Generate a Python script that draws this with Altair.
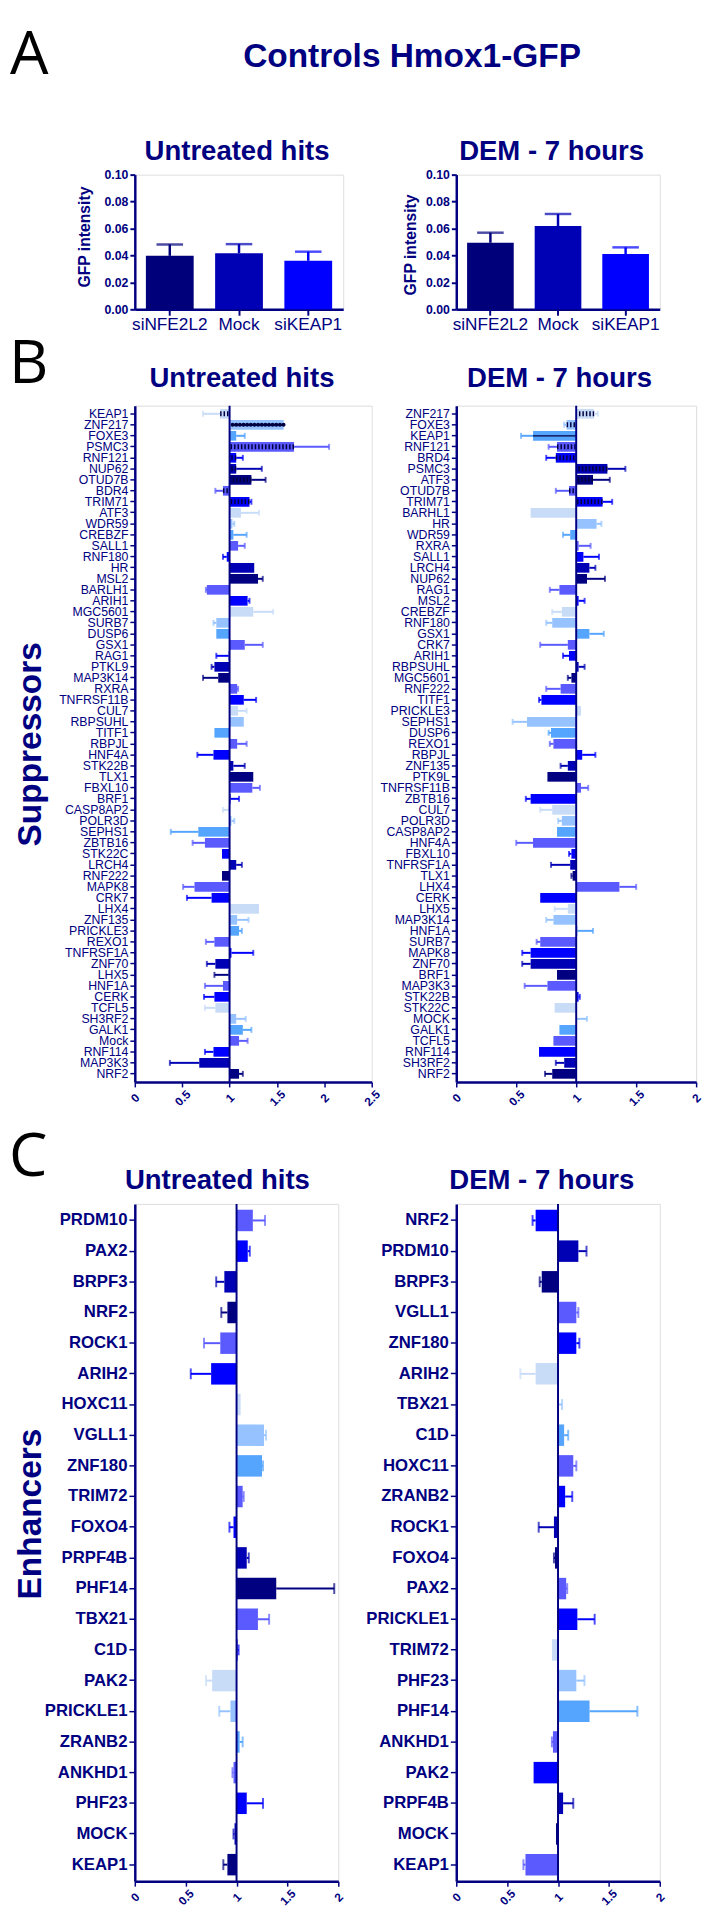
import altair as alt
import pandas as pd

NAVY = "#000080"
FONT = "Liberation Sans"
LETTER_FONT = "Open Sans"

# ---------------- Panel A : controls ----------------
a_categories = ["siNFE2L2", "Mock", "siKEAP1"]
a_untreated_mean = [0.0397, 0.0416, 0.0360]
a_untreated_upper = [0.0482, 0.0484, 0.0428]
a_dem_mean = [0.0494, 0.0618, 0.0411]
a_dem_upper = [0.0569, 0.0708, 0.0460]
a_ticks = [0.0, 0.02, 0.04, 0.06, 0.08, 0.10]

# ---------------- Panel B : suppressors ----------------
b_untreated_genes = ["KEAP1", "ZNF217", "FOXE3", "PSMC3", "RNF121", "NUP62", "OTUD7B", "BDR4", "TRIM71",
                     "ATF3", "WDR59", "CREBZF", "SALL1", "RNF180", "HR", "MSL2", "BARLH1", "ARIH1",
                     "MGC5601", "SURB7", "DUSP6", "GSX1", "RAG1", "PTKL9", "MAP3K14", "RXRA", "TNFRSF11B",
                     "CUL7", "RBPSUHL", "TITF1", "RBPJL", "HNF4A", "STK22B", "TLX1", "FBXL10", "BRF1",
                     "CASP8AP2", "POLR3D", "SEPHS1", "ZBTB16", "STK22C", "LRCH4", "RNF222", "MAPK8", "CRK7",
                     "LHX4", "ZNF135", "PRICKLE3", "REXO1", "TNFRSF1A", "ZNF70", "LHX5", "HNF1A", "CERK",
                     "TCFL5", "SH3RF2", "GALK1", "Mock", "RNF114", "MAP3K3", "NRF2"]
b_untreated_ratio = [0.90, 1.57, 1.07, 1.68, 1.07, 1.07, 1.23, 0.93, 1.21,
                     1.12, 1.03, 1.04, 1.09, 0.97, 1.26, 1.30, 0.76, 1.19,
                     1.25, 0.86, 0.86, 1.16, 0.99, 0.84, 0.88, 1.08, 1.15,
                     1.09, 1.15, 0.84, 1.08, 0.83, 1.04, 1.25, 1.24, 1.01,
                     0.99, 1.02, 0.67, 0.74, 0.92, 1.07, 0.92, 0.63, 0.81,
                     1.31, 1.08, 1.10, 0.84, 1.02, 0.85, 0.99, 0.93, 0.84,
                     0.85, 1.07, 1.14, 1.10, 0.83, 0.68, 1.10]
b_untreated_err_end = [0.72, 1.57, 1.16, 2.05, 1.14, 1.34, 1.38, 0.85, 1.23,
                       1.31, 1.05, 1.18, 1.16, 0.93, 1.26, 1.35, 0.75, 1.21,
                       1.46, 0.83, 0.86, 1.35, 0.86, 0.81, 0.72, 1.09, 1.28,
                       1.18, 1.15, 0.84, 1.18, 0.66, 1.16, 1.25, 1.32, 1.10,
                       0.93, 1.05, 0.38, 0.61, 0.92, 1.13, 0.92, 0.51, 0.55,
                       1.31, 1.20, 1.13, 0.75, 1.25, 0.76, 0.84, 0.74, 0.73,
                       0.74, 1.17, 1.23, 1.19, 0.74, 0.37, 1.14]
b_untreated_patterns = {"KEAP1": "dash", "ZNF217": "dot", "PSMC3": "dash", "RNF121": "dash",
                        "NUP62": "dash", "OTUD7B": "dash", "BDR4": "dash", "TRIM71": "dash"}

b_dem_genes = ["ZNF217", "FOXE3", "KEAP1", "RNF121", "BRD4", "PSMC3", "ATF3", "OTUD7B", "TRIM71",
               "BARHL1", "HR", "WDR59", "RXRA", "SALL1", "LRCH4", "NUP62", "RAG1", "MSL2",
               "CREBZF", "RNF180", "GSX1", "CRK7", "ARIH1", "RBPSUHL", "MGC5601", "RNF222", "TITF1",
               "PRICKLE3", "SEPHS1", "DUSP6", "REXO1", "RBPJL", "ZNF135", "PTK9L", "TNFRSF11B", "ZBTB16",
               "CUL7", "POLR3D", "CASP8AP2", "HNF4A", "FBXL10", "TNFRSF1A", "TLX1", "LHX4", "CERK",
               "LHX5", "MAP3K14", "HNF1A", "SURB7", "MAPK8", "ZNF70", "BRF1", "MAP3K3", "STK22B",
               "STK22C", "MOCK", "GALK1", "TCFL5", "RNF114", "SH3RF2", "NRF2"]
b_dem_ratio = [1.15, 0.92, 0.64, 0.84, 0.83, 1.26, 1.14, 0.94, 1.22,
               0.62, 1.17, 0.95, 1.02, 1.06, 1.11, 1.09, 0.86, 1.02,
               0.88, 0.80, 1.11, 0.93, 0.94, 1.02, 0.96, 0.87, 0.71,
               1.04, 0.59, 0.79, 0.81, 1.05, 0.93, 0.76, 1.04, 0.62,
               0.80, 0.88, 0.84, 0.64, 0.96, 0.95, 0.97, 1.36, 0.70,
               0.93, 0.81, 1.01, 0.70, 0.62, 0.62, 0.84, 0.76, 1.02,
               0.82, 1.00, 0.86, 0.81, 0.69, 0.90, 0.80]
b_dem_err_end = [1.18, 0.90, 0.54, 0.77, 0.75, 1.41, 1.28, 0.83, 1.30,
                 0.62, 1.21, 0.89, 1.12, 1.19, 1.16, 1.24, 0.78, 1.07,
                 0.80, 0.75, 1.23, 0.70, 0.89, 1.07, 0.93, 0.75, 0.69,
                 1.04, 0.47, 0.77, 0.78, 1.16, 0.87, 0.76, 1.10, 0.58,
                 0.70, 0.85, 0.84, 0.50, 0.94, 0.79, 0.96, 1.50, 0.70,
                 0.82, 0.75, 1.14, 0.67, 0.55, 0.55, 0.84, 0.57, 1.03,
                 0.82, 1.09, 0.86, 0.81, 0.69, 0.83, 0.74]
b_dem_patterns = {"ZNF217": "dash", "FOXE3": "dash", "KEAP1": "line", "RNF121": "dash", "BRD4": "dash",
                  "PSMC3": "dash", "ATF3": "dash", "OTUD7B": "dash", "TRIM71": "dash"}
b_left_ticks = [0, 0.5, 1, 1.5, 2, 2.5]
b_right_ticks = [0, 0.5, 1, 1.5, 2]

# ---------------- Panel C : enhancers ----------------
c_untreated_genes = ["PRDM10", "PAX2", "BRPF3", "NRF2", "ROCK1", "ARIH2", "HOXC11", "VGLL1", "ZNF180",
                     "TRIM72", "FOXO4", "PRPF4B", "PHF14", "TBX21", "C1D", "PAK2", "PRICKLE1", "ZRANB2",
                     "ANKHD1", "PHF23", "MOCK", "KEAP1"]
c_untreated_ratio = [1.16, 1.11, 0.88, 0.91, 0.84, 0.75, 1.04, 1.27, 1.25,
                     1.06, 0.97, 1.10, 1.39, 1.21, 1.01, 0.76, 0.94, 1.03,
                     0.97, 1.10, 0.98, 0.91]
c_untreated_err_end = [1.28, 1.13, 0.80, 0.85, 0.68, 0.55, 1.04, 1.29, 1.26,
                       1.07, 0.93, 1.12, 1.96, 1.32, 1.02, 0.70, 0.83, 1.06,
                       0.96, 1.26, 0.97, 0.87]
c_dem_genes = ["NRF2", "PRDM10", "BRPF3", "VGLL1", "ZNF180", "ARIH2", "TBX21", "C1D", "HOXC11",
               "ZRANB2", "ROCK1", "FOXO4", "PAX2", "PRICKLE1", "TRIM72", "PHF23", "PHF14", "ANKHD1",
               "PAK2", "PRPF4B", "MOCK", "KEAP1"]
c_dem_ratio = [0.78, 1.20, 0.84, 1.18, 1.18, 0.78, 1.01, 1.06, 1.15,
               1.07, 0.96, 0.97, 1.08, 1.19, 0.94, 1.18, 1.31, 0.95,
               0.76, 1.05, 0.98, 0.68]
c_dem_err_end = [0.75, 1.28, 0.82, 1.20, 1.21, 0.63, 1.04, 1.10, 1.18,
                 1.14, 0.81, 0.96, 1.09, 1.36, 0.94, 1.26, 1.78, 0.94,
                 0.76, 1.15, 0.98, 0.66]
c_ticks = [0, 0.5, 1, 1.5, 2]

# ---------------- styling helpers ----------------
A_COLORS = ["#00007A", "#0000B4", "#0000FF"]
CYCLE = ["#000080", "#0000B4", "#0000FF", "#5A5AFF", "#55A5FF",
         "#96C3FF", "#C8DCF8", "#0000FF", "#5A5AFF"]


def cycle_colors(n, offset=0):
    return [CYCLE[((n - 1 - i) + offset) % len(CYCLE)] for i in range(n)]


def text_layer(text, x, y, size, color=NAVY, weight="bold", align="center", font=FONT):
    return alt.Chart(pd.DataFrame({"t": [text]})).mark_text(
        font=font, fontSize=size, fontWeight=weight, color=color,
        align=align, baseline="alphabetic"
    ).encode(text="t:N", x=alt.value(x), y=alt.value(y))


def a_panel(means, uppers, width, title_x, title_y, extra):
    df = pd.DataFrame({"category": a_categories, "mean": means, "upper": uppers, "color": A_COLORS})
    xaxis = alt.Axis(labelAngle=0, labelFont=FONT, labelFontSize=17.5, labelColor=NAVY, labelPadding=1,
                     domainColor=NAVY, domainWidth=2.5, tickColor=NAVY, tickWidth=2, tickSize=6)
    x = alt.X("category:N", sort=a_categories, title=None,
              scale=alt.Scale(paddingInner=0.31, paddingOuter=0.16), axis=xaxis)
    yscale = alt.Scale(domain=[0, 0.1], nice=False, zero=True)
    yaxis = alt.Axis(values=a_ticks, format=".2f", grid=False, labelFont=FONT, labelFontSize=12.5,
                     labelFontWeight="bold", labelColor=NAVY, labelPadding=2, tickColor=NAVY,
                     tickWidth=2, tickSize=5, domainColor=NAVY, domainWidth=2.5,
                     titleFont=FONT, titleFontSize=16, titleFontWeight="bold", titleColor=NAVY,
                     titleAngle=270, titleAlign="center", titleBaseline="alphabetic",
                     titleX=title_x, titleY=title_y)

    def Y(field):
        return alt.Y(field, title="GFP intensity", scale=yscale, axis=yaxis)

    col = alt.Color("color:N", scale=None, legend=None)
    base = alt.Chart(df)
    bars = base.mark_bar().encode(x=x, y=Y("mean:Q"), color=col)
    err = base.mark_rule(strokeWidth=2.5).encode(x=x, y=Y("mean:Q"), y2="upper:Q", color=col)
    cap = base.mark_tick(thickness=2.5, size=27).encode(x=x, y=Y("upper:Q"), color=col)
    return alt.layer(bars, err, cap, *extra).properties(width=width, height=137)


def h_panel(genes, ratio, err_end, colors, patterns, width, height, xmax, xticks,
            label_size, label_weight, tick_size, pad_inner, pad_outer, err_width, cap_size,
            ytitle, title_opts, extra):
    df = pd.DataFrame({"gene": genes, "ratio": ratio, "err": err_end, "color": colors})
    df["base"] = 1.0
    df["has_err"] = [abs(e - r) > 1e-9 for e, r in zip(err_end, ratio)]
    df["pat"] = [patterns.get(g, "none") for g in genes]

    xscale = alt.Scale(domain=[0, xmax], nice=False, zero=True)
    xaxis = alt.Axis(values=xticks, format="~g", grid=False, labelAngle=315, labelAlign="center",
                     labelBaseline="middle", labelPadding=11, labelFont=FONT, labelFontSize=12,
                     labelFontWeight="bold", labelColor=NAVY, labelFlush=False, labelOverlap=False,
                     tickColor=NAVY, tickSize=5, tickWidth=1.5, domainColor=NAVY, domainWidth=2.5)

    def X(field):
        return alt.X(field, title=None, scale=xscale, axis=xaxis)

    yaxis = alt.Axis(labelFont=FONT, labelFontSize=label_size, labelFontWeight=label_weight,
                     labelColor=NAVY, labelPadding=2, labelOverlap=False, labelLimit=0,
                     tickColor=NAVY, tickSize=tick_size, tickWidth=1.5, domainColor=NAVY,
                     domainWidth=2.5, grid=False, **title_opts)
    y = alt.Y("gene:N", sort=genes, title=ytitle,
              scale=alt.Scale(paddingInner=pad_inner, paddingOuter=pad_outer), axis=yaxis)
    col = alt.Color("color:N", scale=None, legend=None)
    base = alt.Chart(df)

    bars = base.mark_bar().encode(x=X("ratio:Q"), x2=alt.X2("base:Q", title=None), y=y, color=col)
    dash = base.transform_filter(alt.datum.pat == "dash").mark_rule(
        strokeDash=[1.5, 2], strokeWidth=5, color="#000040"
    ).encode(x=X("ratio:Q"), x2="base:Q", y=y)
    dot = base.transform_filter(alt.datum.pat == "dot").mark_rule(
        strokeDash=[0.1, 3.6], strokeCap="round", strokeWidth=4, color="#000040"
    ).encode(x=X("ratio:Q"), x2="base:Q", y=y)
    line = base.transform_filter(alt.datum.pat == "line").mark_rule(
        strokeWidth=1.2, color="#000040"
    ).encode(x=X("ratio:Q"), x2="base:Q", y=y)
    err = base.transform_filter("datum.has_err").mark_rule(strokeWidth=err_width).encode(
        x=X("ratio:Q"), x2="err:Q", y=y, color=col)
    cap = base.transform_filter("datum.has_err").mark_tick(thickness=err_width, size=cap_size).encode(
        x=X("err:Q"), y=y, color=col)
    one = alt.Chart(pd.DataFrame({"one": [1.0]})).mark_rule(color=NAVY, strokeWidth=2).encode(
        x=X("one:Q"))
    return alt.layer(bars, dash, dot, line, err, cap, one, *extra).properties(width=width, height=height)


def spacer(h):
    return alt.Chart(pd.DataFrame({"z": [0]})).mark_point(opacity=0).properties(width=1, height=h)


# ---------------- panels ----------------
anchor = alt.Chart(pd.DataFrame({"z": [0]})).mark_square(size=1, color="white", opacity=1).encode(
    x=alt.value(-128), y=alt.value(-152))

A_left = a_panel(a_untreated_mean, a_untreated_upper, 212, -46, 63, [
    anchor,
    text_layer("A", -127, -102, 62, color="black", weight="normal", align="left", font=LETTER_FONT),
    text_layer("Controls Hmox1-GFP", 282, -110, 34),
    text_layer("Untreated hits", 104, -15, 28),
])
A_right = a_panel(a_dem_mean, a_dem_upper, 207, -41, 71, [
    text_layer("DEM - 7 hours", 97, -15, 28),
])

B_left = h_panel(b_untreated_genes, b_untreated_ratio, b_untreated_err_end,
                 cycle_colors(len(b_untreated_genes)), b_untreated_patterns,
                 241, 688, 2.5, b_left_ticks, 12.5, "normal", 5, 0.12, 0.3, 2, 6,
                 "Suppressors",
                 dict(titleFont=FONT, titleFontSize=34, titleFontWeight="bold", titleColor=NAVY,
                      titleAngle=270, titleAlign="center", titleBaseline="alphabetic",
                      titleX=-96, titleY=344),
                 [text_layer("B", -128, -23, 62, color="black", weight="normal", align="left",
                             font=LETTER_FONT),
                  text_layer("Untreated hits", 109, -19, 28)])
B_right = h_panel(b_dem_genes, b_dem_ratio, b_dem_err_end,
                  cycle_colors(len(b_dem_genes)), b_dem_patterns,
                  244, 688, 2.0, b_right_ticks, 12.5, "normal", 5, 0.12, 0.3, 2, 6,
                  None, {},
                  [text_layer("DEM - 7 hours", 105, -19, 28)])

C_left = h_panel(c_untreated_genes, c_untreated_ratio, c_untreated_err_end,
                 cycle_colors(len(c_untreated_genes)), {},
                 207, 689, 2.0, c_ticks, 17, "bold", 6, 0.3, 0.19, 2, 11,
                 "Enhancers",
                 dict(titleFont=FONT, titleFontSize=34, titleFontWeight="bold", titleColor=NAVY,
                      titleAngle=270, titleAlign="center", titleBaseline="alphabetic",
                      titleX=-96, titleY=315),
                 [text_layer("C", -128, -28, 62, color="black", weight="normal", align="left",
                             font=LETTER_FONT),
                  text_layer("Untreated hits", 84, -15, 28)])
C_right = h_panel(c_dem_genes, c_dem_ratio, c_dem_err_end,
                  cycle_colors(len(c_dem_genes), offset=-1), {},
                  207, 689, 2.0, c_ticks, 17, "bold", 6, 0.3, 0.19, 2, 11,
                  None, {},
                  [text_layer("DEM - 7 hours", 87, -15, 28)])

chart = alt.concat(
    A_left, A_right,
    spacer(78), spacer(78),
    B_left, B_right,
    spacer(104), spacer(104),
    C_left, C_right,
    columns=2, spacing={"row": 10, "column": 86}, bounds="flush"
).properties(padding=0).configure_view(strokeWidth=0).configure(font=FONT)

chart.save("out.html", embed_options={"renderer": "svg", "actions": False})
